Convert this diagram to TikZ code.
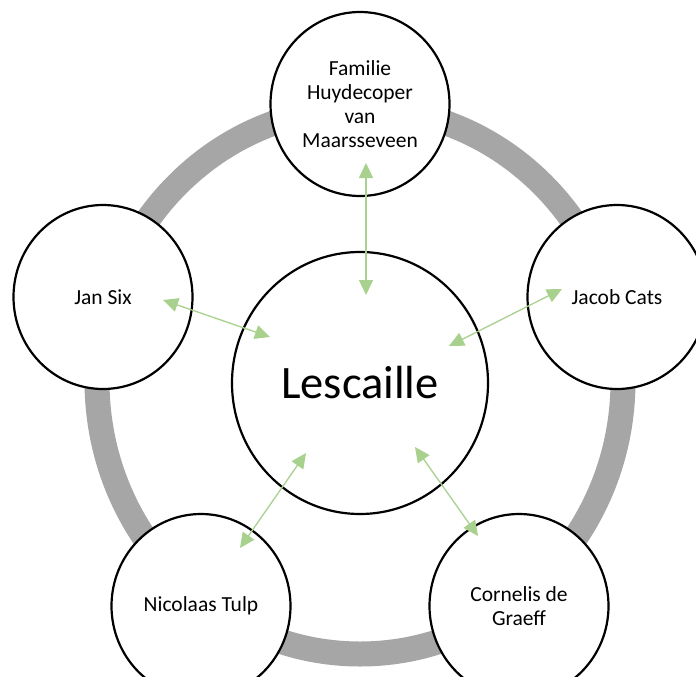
\documentclass[tikz,border=0pt]{standalone}
\usepackage{fontspec}
\setmainfont{Carlito}
\usetikzlibrary{shapes.geometric,arrows.meta}
\definecolor{ringgray}{HTML}{A6A6A6}
\definecolor{linkgreen}{HTML}{A9D18E}
\tikzset{
  person/.style={ellipse, draw=black, line width=2.2pt, fill=white,
    minimum width=179pt, minimum height=184pt, inner sep=0pt, align=center,
    font=\fontsize{21.5}{24}\selectfont},
  hub/.style={ellipse, draw=black, line width=2.2pt, fill=white,
    minimum width=256pt, minimum height=262pt, inner sep=0pt,
    font=\fontsize{46.5}{50}\selectfont},
  link/.style={draw=linkgreen, line width=1.3pt,
    {Triangle[length=15pt,width=14pt]}-{Triangle[length=15pt,width=14pt]}}
}
\begin{document}
\begin{tikzpicture}[x=1pt,y=-1pt]
  \useasboundingbox (0,0) rectangle (696,677);
  \fill[white] (0,0) rectangle (696,677);

  % connecting ring behind the circles
  \draw[ringgray, line width=25pt] (360,381) ellipse [x radius=263pt, y radius=273pt];

  % circles
  \node[hub] (center) at (360,383) {Lescaille};
  \node[person] (huy) at (360,104) {Familie\\Huydecoper\\van\\Maarsseveen};
  \node[person] (six) at (103,297) {Jan Six};
  \node[person] (cats) at (617,297) {Jacob Cats};
  \node[person] (tulp) at (201,606) {Nicolaas Tulp};
  \node[person] (graeff) at (519,606) {Cornelis de\\Graeff};

  % arrow end points
  \coordinate (huyA) at (366,163);
  \coordinate (huyB) at (366,295);
  \coordinate (sixA) at (163,300);
  \coordinate (sixB) at (270,337);
  \coordinate (catsA) at (562,289);
  \coordinate (catsB) at (449,346);
  \coordinate (tulpA) at (240,548);
  \coordinate (tulpB) at (306,453);
  \coordinate (graeffA) at (478,536);
  \coordinate (graeffB) at (415,447);

  % two-way links
  \draw[link] (huyA) -- (huyB);
  \draw[link] (sixA) -- (sixB);
  \draw[link] (catsA) -- (catsB);
  \draw[link] (tulpA) -- (tulpB);
  \draw[link] (graeffA) -- (graeffB);
\end{tikzpicture}
\end{document}
